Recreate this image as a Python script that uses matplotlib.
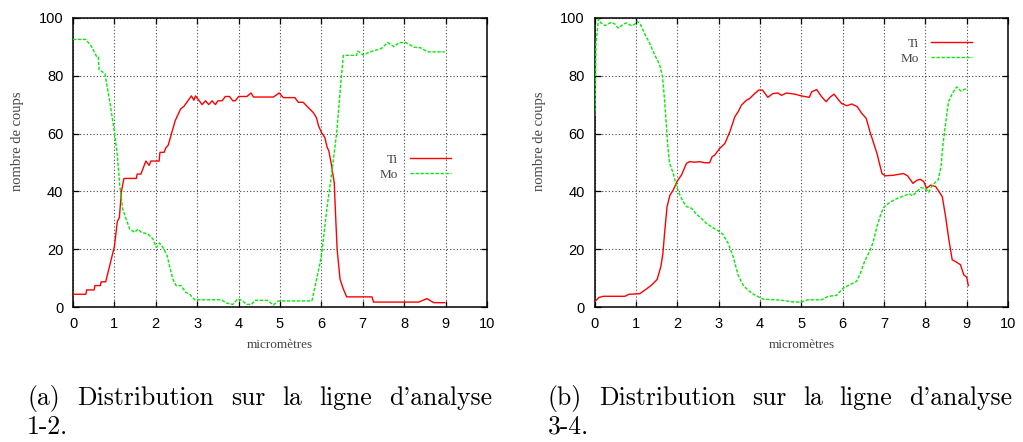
import matplotlib
matplotlib.use("Agg")
import matplotlib.pyplot as plt

# ---------------- data ----------------
# (a) ligne d'analyse 1-2
ti_a_x = [0, 0.31, 0.33, 0.51, 0.53, 0.66, 0.68, 0.79, 0.89, 1.0, 1.07, 1.12, 1.17, 1.23, 1.53, 1.55,
          1.64, 1.76, 1.84, 1.88, 2.08, 2.1, 2.2, 2.24, 2.3, 2.4, 2.47, 2.6, 2.68, 2.86, 2.92, 2.96,
          3.12, 3.2, 3.28, 3.36, 3.44, 3.5, 3.6, 3.68, 3.78, 3.86, 3.92, 4.0, 4.2, 4.3, 4.36, 4.84,
          4.98, 5.08, 5.36, 5.44, 5.56, 5.68, 5.8, 5.88, 5.93, 6.0, 6.08, 6.14, 6.18, 6.24, 6.31,
          6.34, 6.38, 6.45, 6.53, 6.61, 7.22, 7.26, 8.35, 8.55, 8.71, 8.98]
ti_a_y = [4.5, 4.5, 6.0, 6.0, 7.5, 7.5, 8.8, 8.8, 14.6, 21, 29.6, 31, 40, 44.5, 44.5, 46,
          46, 50.5, 49, 50.5, 50.5, 53.5, 53.5, 55, 56, 61, 64.5, 68.5, 69.4, 73, 71.5, 73,
          70, 71.3, 70, 71.3, 70, 71.3, 71.3, 72.8, 72.8, 71.3, 71.3, 72.8, 72.8, 74, 72.6, 72.6,
          74, 72.4, 72.4, 70.8, 70.8, 69, 67.3, 65.5, 62.7, 60.4, 58.7, 55.2, 54, 49.4, 43,
          32.7, 20, 9.7, 6.3, 3.6, 3.6, 1.8, 1.8, 3.0, 1.6, 1.6]

mo_a_x = [0, 0.31, 0.45, 0.57, 0.61, 0.63, 0.71, 0.77, 0.82, 0.89, 0.94, 1.0, 1.07, 1.13, 1.2,
          1.28, 1.37, 1.49, 1.57, 1.65, 1.81, 1.93, 2.01, 2.09, 2.17, 2.27, 2.33, 2.41, 2.49,
          2.61, 2.72, 2.81, 2.94, 3.58, 3.7, 3.86, 3.98, 4.09, 4.19, 4.31, 4.4, 4.7, 4.84, 4.96,
          5.77, 5.97, 6.02, 6.13, 6.25, 6.37, 6.47, 6.53, 6.85, 6.88, 7.01, 7.17, 7.37, 7.45,
          7.6, 7.75, 7.88, 8.04, 8.24, 8.4, 8.56, 8.98]
mo_a_y = [92.5, 92.5, 90, 86.6, 86.6, 82, 81.3, 80.7, 76.7, 70.9, 66.3, 60.5, 52.5, 42, 34,
          30.6, 27, 25.9, 27, 25.9, 25.3, 23.6, 20.7, 22.2, 20.7, 18, 14.4, 9.8, 7.5,
          7.5, 5.2, 4.6, 2.6, 2.6, 1.5, 1.0, 2.9, 2.3, 1.0, 1.0, 2.4, 2.4, 0.8, 2.2,
          2.2, 15.5, 20, 33.8, 46.5, 60.3, 77.6, 87, 87, 88.5, 87.1, 88.2, 89, 89.4,
          91.4, 90, 91.4, 91.4, 89.8, 89.6, 88.2, 88.2]

# (b) ligne d'analyse 3-4
ti_b_x = [0, 0.1, 0.21, 0.73, 0.83, 1.09, 1.21, 1.37, 1.51, 1.6, 1.65, 1.69, 1.75, 1.82, 1.9,
          1.99, 2.1, 2.22, 2.3, 2.42, 2.54, 2.66, 2.78, 2.84, 2.9, 3.02, 3.15, 3.27, 3.39, 3.47,
          3.55, 3.67, 3.75, 3.87, 3.97, 4.06, 4.19, 4.31, 4.43, 4.52, 4.64, 4.84, 5.0, 5.19,
          5.25, 5.37, 5.49, 5.6, 5.69, 5.79, 5.89, 5.97, 6.1, 6.22, 6.35, 6.46, 6.57, 6.66,
          6.83, 6.95, 7.03, 7.23, 7.47, 7.57, 7.7, 7.8, 7.88, 7.96, 8.03, 8.13, 8.25, 8.41,
          8.49, 8.57, 8.65, 8.73, 8.85, 8.93, 9.0, 9.04]
ti_b_y = [1.9, 3.4, 3.8, 3.8, 4.5, 4.7, 5.9, 7.6, 9.6, 14, 18.6, 25.5, 34.7, 38.7, 40.5,
          43.4, 45.7, 49.7, 50.3, 50.1, 50.3, 49.9, 49.9, 52, 52.5, 54.8, 56.6, 60.6, 65.8, 67.5,
          69.8, 71.5, 72.1, 73.8, 75, 75, 72.5, 73.8, 74, 73.2, 74, 73.6, 73, 72.5,
          74.4, 75.2, 72.7, 71, 72.5, 73.6, 71.8, 70.4, 69.6, 70.2, 69.3, 67, 65.2, 60.6,
          53.1, 46.2, 45.4, 45.6, 46.2, 45.4, 42.8, 43.9, 44.2, 43.4, 41.1, 42.2, 41.7, 38.2,
          31.3, 23.3, 16.4, 15.8, 14.7, 11.2, 10.4, 7.5]

mo_b_x = [0, 0.01, 0.03, 0.09, 0.15, 0.25, 0.4, 0.48, 0.57, 0.68, 0.76, 0.88, 0.96, 1.03,
          1.11, 1.2, 1.33, 1.45, 1.57, 1.64, 1.69, 1.73, 1.77, 1.81, 1.9, 1.98, 2.04, 2.14,
          2.22, 2.34, 2.46, 2.58, 2.7, 2.86, 2.98, 3.1, 3.23, 3.35, 3.47, 3.59, 3.71, 3.84,
          3.96, 4.08, 4.48, 4.64, 4.84, 5.0, 5.16, 5.49, 5.65, 5.85, 6.01, 6.17, 6.33, 6.43,
          6.53, 6.65, 6.73, 6.83, 6.93, 7.01, 7.17, 7.33, 7.49, 7.61, 7.69, 7.8, 7.89, 8.0,
          8.08, 8.16, 8.26, 8.31, 8.38, 8.42, 8.48, 8.56, 8.66, 8.76, 8.86, 8.94, 9.0]
mo_b_y = [66, 68, 91, 99.5, 98.2, 97.3, 98.4, 97.9, 96.4, 97.6, 98.2, 97.3, 97.6, 98.8,
          97.6, 94.7, 91.2, 87.2, 83.8, 79.7, 71.7, 63.6, 55.5, 49.8, 46.3, 41.7, 39.4, 36.5,
          34.8, 34.2, 32.2, 30.7, 29, 27.5, 26.5, 25.2, 22.1, 17.5, 11.1, 7.7, 5.9, 4.5,
          3.6, 2.8, 2.5, 2.2, 1.8, 1.8, 2.6, 2.6, 3.8, 4.1, 6.6, 7.8, 8.9, 11.8,
          15.8, 19.3, 22.2, 27.9, 32.5, 34.8, 36.5, 37.7, 38.5, 39.2, 38.5, 40, 41.3, 41.1,
          39.7, 41.9, 43.4, 44, 48.6, 55.5, 62.4, 71, 74, 76.1, 74.7, 75.2, 75.5]

series_names = ["Ti", "Mo"]
x_ticks = list(range(0, 11))
y_ticks = [0, 20, 40, 60, 80, 100]
x_label = "micromètres"
y_label = "nombre de coups"
captions = [["(a) Distribution sur la ligne d'analyse", "1-2."],
            ["(b) Distribution sur la ligne d'analyse", "3-4."]]

# ---------------- figure ----------------
W, H = 1023, 442
fig = plt.figure(figsize=(W / 100, H / 100), dpi=100)

RED = "#ff0000"
GREEN = "#00ee00"
LABEL_FONT = ["Liberation Serif", "DejaVu Serif"]

axes_px = [(73, 487), (594.7, 1008)]
top_px, bot_px = 17.7, 307.3
legend_anchor = [(0.913, 0.53), (0.913, 0.932)]
datasets = [((ti_a_x, ti_a_y), (mo_a_x, mo_a_y)), ((ti_b_x, ti_b_y), (mo_b_x, mo_b_y))]

axes = []
for i, ((l, r), (ti, mo)) in enumerate(zip(axes_px, datasets)):
    ax = fig.add_axes([l / W, 1 - bot_px / H, (r - l) / W, (bot_px - top_px) / H])
    axes.append(ax)
    ax.plot(ti[0], ti[1], color=RED, lw=1.0, label=series_names[0], zorder=3)
    ax.plot(mo[0], mo[1], color=GREEN, lw=1.0, dashes=(2.4, 1.2), label=series_names[1], zorder=3)
    ax.set_xlim(0, 10)
    ax.set_ylim(0, 100)
    ax.set_xticks(x_ticks)
    ax.set_yticks(y_ticks)
    ax.tick_params(direction="in", length=4.5, width=0.9, top=True, right=True,
                   labelsize=10.5, pad=7, colors="black")
    for lab in ax.get_xticklabels() + ax.get_yticklabels():
        lab.set_fontfamily("Liberation Sans")
    ax.grid(True, color="#444444", lw=0.8, linestyle=(0, (1, 2)))
    for s in ax.spines.values():
        s.set_linewidth(1.1)
    ax.set_xlabel(x_label, fontsize=9.5, family=LABEL_FONT, color="#444444")
    ax.xaxis.set_label_coords(0.5, -0.108)
    ax.set_ylabel(y_label, fontsize=10.5, family=LABEL_FONT, color="#444444")
    ax.yaxis.set_label_coords(-0.118, 0.574)
    leg = ax.legend(loc="upper right", bbox_to_anchor=legend_anchor[i], frameon=False,
                    markerfirst=False, handlelength=3.1, handletextpad=0.9,
                    labelspacing=0.2, borderpad=0, borderaxespad=0,
                    prop={"family": LABEL_FONT, "size": 9.5})
    for t in leg.get_texts():
        t.set_color("#444444")

# ---------------- captions (justified first line) ----------------
fig.canvas.draw()
renderer = fig.canvas.get_renderer()
cap_font = dict(family=["cmr10", "DejaVu Serif"], fontsize=18.5, color="black")
cap_px = [(27, 492), (548, 1012)]
base1, base2 = 405, 434
for (left, right), (line1, line2) in zip(cap_px, captions):
    words = line1.split(" ")
    texts = [fig.text(0, 0, w, va="baseline", ha="left", **cap_font) for w in words]
    widths = [t.get_window_extent(renderer).width for t in texts]
    gap = ((right - left) - sum(widths)) / (len(words) - 1)
    x = left
    for t, w in zip(texts, widths):
        t.set_position((x / W, 1 - base1 / H))
        x += w + gap
    fig.text(left / W, 1 - base2 / H, line2, va="baseline", ha="left", **cap_font)

fig.savefig("out.png", dpi=100)
